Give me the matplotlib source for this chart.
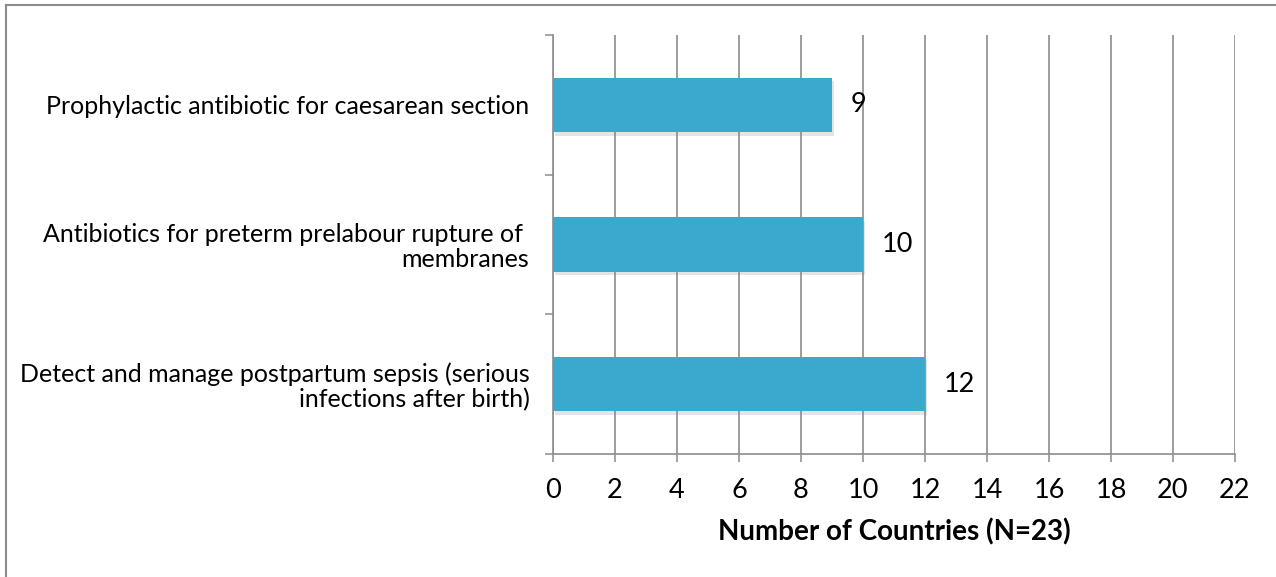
import matplotlib
matplotlib.use("Agg")
import matplotlib.pyplot as plt
import matplotlib.patheffects as pe
from matplotlib.lines import Line2D

plt.rcParams['font.family'] = ['Lato', 'DejaVu Sans']

categories = [
    "Detect and manage postpartum sepsis (serious\ninfections after birth)",
    "Antibiotics for preterm prelabour rupture of \nmembranes",
    "Prophylactic antibiotic for caesarean section",
]
values = [12, 10, 9]
x_ticks = list(range(0, 23, 2))
x_label = "Number of Countries (N=23)"

W, H = 1276, 577
fig = plt.figure(figsize=(W / 100, H / 100), dpi=100)
ax = fig.add_axes([553 / W, 1 - 454 / H, (1235 - 553) / W, (454 - 35) / H])

grey = "#8c8c8c"
bar_color = "#3ba8ce"
ypos = list(range(len(categories)))
bars = ax.barh(ypos, values, height=0.39, color=bar_color, zorder=3)
for b in bars:
    b.set_path_effects([pe.SimplePatchShadow(offset=(1.5, -2.5), shadow_rgbFace="#888888", alpha=0.22), pe.Normal()])

for y, v in zip(ypos, values):
    ax.text(v + 0.6, y, str(v), va="center", ha="left", fontsize=19.5, color="black", zorder=4)

ax.set_xlim(0, 22)
ax.set_ylim(-0.5, len(categories) - 0.5)
ax.set_xticks(x_ticks)
ax.set_xticklabels([str(t) for t in x_ticks], fontsize=19.5)
ax.set_yticks(ypos)
ax.set_yticklabels(categories, fontsize=18, linespacing=1.1)
ax.set_yticks([i - 0.5 for i in range(len(categories) + 1)], minor=True)
ax.tick_params(axis="y", which="major", length=0, pad=17)
ax.tick_params(axis="y", which="minor", length=6, width=1.1, color=grey)
ax.tick_params(axis="x", which="major", length=6, width=1.1, color=grey, pad=11)

ax.xaxis.grid(True, color=grey, linewidth=1.2, zorder=0)
ax.set_axisbelow(True)
for s in ["top", "right"]:
    ax.spines[s].set_visible(False)
for s in ["left", "bottom"]:
    ax.spines[s].set_color(grey)
    ax.spines[s].set_linewidth(1.2)

ax.set_xlabel(x_label, fontsize=20, fontweight="bold", labelpad=11)

# outer frame (top and left edges visible)
fig.add_artist(Line2D([6 / W, 1], [1 - 5 / H, 1 - 5 / H], transform=fig.transFigure, color=grey, linewidth=1.5))
fig.add_artist(Line2D([6 / W, 6 / W], [0, 1 - 5 / H], transform=fig.transFigure, color=grey, linewidth=1.5))

fig.savefig("out.png", dpi=100)
